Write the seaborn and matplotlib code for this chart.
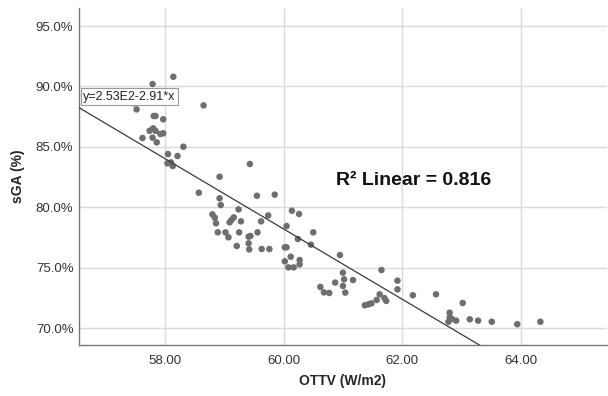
import numpy as np
import pandas as pd
import seaborn as sns
import matplotlib.pyplot as plt
from matplotlib.ticker import FuncFormatter

# OTTV (W/m2) vs sGA (%)
ottv = [57.47, 57.52, 57.62, 57.74, 57.79, 57.79, 57.80, 57.81, 57.84, 57.84,
        57.86, 57.92, 57.97, 57.97, 58.04, 58.05, 58.10, 58.13, 58.14, 58.21,
        58.31, 58.57, 58.65, 58.80, 58.84, 58.86, 58.89, 58.92, 58.92, 58.94,
        59.02, 59.07, 59.09, 59.12, 59.16, 59.21, 59.24, 59.25, 59.28, 59.41,
        59.41, 59.42, 59.43, 59.44, 59.55, 59.56, 59.62, 59.63, 59.74, 59.76,
        59.85, 60.02, 60.02, 60.05, 60.05, 60.08, 60.12, 60.14, 60.17, 60.24,
        60.26, 60.27, 60.27, 60.46, 60.50, 60.62, 60.68, 60.77, 60.87, 60.95,
        61.00, 61.00, 61.02, 61.04, 61.17, 61.37, 61.43, 61.48, 61.57, 61.62,
        61.65, 61.70, 61.73, 61.92, 61.92, 62.18, 62.57, 62.78, 62.80, 62.80,
        62.84, 62.91, 63.02, 63.14, 63.28, 63.51, 63.94, 64.33]
sga = [88.6, 88.1, 85.73, 86.33, 90.2, 85.76, 86.53, 87.55, 87.55, 86.33,
       85.37, 86.06, 86.12, 87.28, 83.63, 84.40, 83.71, 83.41, 90.80, 84.24,
       85.01, 81.20, 88.43, 79.41, 79.13, 78.67, 77.92, 82.52, 80.74, 80.18,
       77.92, 77.51, 78.75, 78.94, 79.16, 76.79, 79.82, 77.92, 78.83, 77.56,
       77.01, 76.51, 83.58, 77.62, 80.95, 77.92, 78.83, 76.54, 79.32, 76.54,
       81.04, 76.68, 75.52, 76.68, 78.44, 75.02, 75.90, 79.71, 75.02, 77.37,
       79.44, 75.63, 75.27, 76.90, 77.92, 73.40, 72.95, 72.90, 73.76, 76.04,
       74.58, 73.48, 74.03, 72.93, 73.97, 71.88, 71.96, 72.04, 72.32, 72.79,
       74.80, 72.48, 72.24, 73.92, 73.20, 72.71, 72.79, 70.52, 71.27, 70.89,
       70.75, 70.61, 72.07, 70.72, 70.61, 70.52, 70.31, 70.52]

intercept = 252.8
slope = -2.91
r2 = 0.816
x_ticks = [58, 60, 62, 64]
y_ticks = [70, 75, 80, 85, 90, 95]

df = pd.DataFrame({"OTTV": ottv, "sGA": sga})

sns.set_style("white")
plt.rcParams['font.family'] = ['Liberation Sans', 'DejaVu Sans']

fig = plt.figure(figsize=(6.08, 3.96), dpi=100)
ax = fig.add_axes([0.130, 0.129, 0.868, 0.851])

xlim = (56.55, 65.45)
ylim = (68.6, 96.5)

ax.set_axisbelow(True)
ax.grid(True, color="#dadada", linewidth=1.0)

sns.scatterplot(data=df, x="OTTV", y="sGA", ax=ax, color="#6e6e6e",
                s=22, edgecolor="none", zorder=3)

# fit line from the reported coefficients
xs = np.linspace(xlim[0], xlim[1], 200)
ax.plot(xs, intercept + slope * xs, color="#3a3a3a", linewidth=0.9, zorder=4)

ax.set_xlim(*xlim)
ax.set_ylim(*ylim)
ax.set_xticks(x_ticks)
ax.set_yticks(y_ticks)
ax.xaxis.set_major_formatter(FuncFormatter(lambda v, p: "%.2f" % v))
ax.yaxis.set_major_formatter(FuncFormatter(lambda v, p: "%.1f%%" % v))
ax.tick_params(axis="both", length=0, labelsize=9.5, labelcolor="#333333")
ax.tick_params(axis="x", pad=7)
ax.tick_params(axis="y", pad=4)

for s in ["top", "right"]:
    ax.spines[s].set_visible(False)
for s in ["left", "bottom"]:
    ax.spines[s].set_color("#777777")
    ax.spines[s].set_linewidth(1.0)

ax.set_xlabel("OTTV (W/m2)", fontsize=10, fontweight="bold", labelpad=5)
ax.set_ylabel("sGA (%)", fontsize=10, fontweight="bold", labelpad=8)

ax.text(60.89, 82.2, "R\u00b2 Linear = %.3f" % r2, fontsize=14, fontweight="bold",
        va="center", ha="left", color="#111111")
ax.text(56.62, 89.15, "y=%.2fE2%.2f*x" % (intercept / 100, slope), fontsize=9,
        va="center", ha="left", color="#222222", zorder=5,
        bbox=dict(boxstyle="square,pad=0.2", facecolor="white",
                  edgecolor="#999999", linewidth=0.8))

plt.savefig("out.png", dpi=100)
plt.close()
